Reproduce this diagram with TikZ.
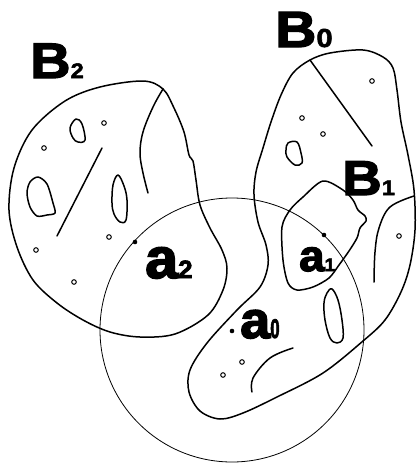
\documentclass[tikz,border=0pt]{standalone}
\usepackage{fontspec}
\newfontfamily\Bfont{Liberation Sans Bold}[FakeBold=2.5, FakeStretch=1.12]
\newfontfamily\afont{Liberation Sans Bold}[FakeBold=3, FakeStretch=1.04]
\newcommand\fs[1]{\fontsize{#1}{#1}\selectfont}
\begin{document}
\begin{tikzpicture}[x=1pt,y=-1pt,
  region/.style={line width=1.5pt, line join=round, line cap=round},
  ring/.style={line width=0.8pt},
  hole/.style={line width=1pt},
  fdot/.style={fill=black},
  lbl/.style={inner sep=0pt, anchor=base west, font=\Bfont},
  albl/.style={lbl, font=\afont}]
\useasboundingbox (0,0) rectangle (418,464);
% big circle
\draw[ring] (232,330) circle[radius=132];
% B2 region
\draw[region] plot[smooth cycle, tension=0.55] coordinates {
 (143,81) (163,89) (174,108) (184,132) (189,155) (193,161) (196,180) (200,205)
 (210,228) (222,250) (227,268) (223,290) (208,315) (175,334) (140,337) (110,332)
 (83,320) (57,303) (33,280) (17,247) (9,210) (14,168) (32,130) (65,101) (100,87)};
\draw[region] plot[smooth, tension=0.6] coordinates {(163,89) (153,107) (143,132) (140,153) (143,173) (148,193)};
\draw[region] (102,148) -- (57,236);
\draw[region] plot[smooth cycle, tension=0.6] coordinates {(76,119) (82,124) (85,140) (78,142) (73,138) (70,128)};
\draw[region] plot[smooth cycle, tension=0.5] coordinates {(38,177) (47,184) (53,203) (55,213) (47,215) (37,216) (30,207) (27,193) (30,182)};
\draw[region] plot[smooth cycle, tension=0.6] coordinates {(118,175) (124,186) (127,200) (126,220) (120,222) (114,214) (112,203) (113,185)};
% B0 region
\draw[region] plot[smooth cycle, tension=0.55] coordinates {
 (310,60) (330,53) (363,50) (383,57) (393,68) (397,90) (401,122) (408,155)
 (414,190) (415,230) (410,265) (401,292) (385,320) (363,341) (323,373) (277,397)
 (243,413) (220,419) (200,411) (189,392) (190,370) (207,343) (237,310) (260,287)
 (268,265) (266,245) (258,222) (254,195) (256,172) (263,148) (271,122) (281,95) (293,73)};
\draw[region] (310,60) -- (372,146);
\draw[region] plot[smooth cycle, tension=0.6] coordinates {(288,143) (297,142) (301,153) (302,163) (295,165) (287,157) (286,150)};
\draw[region] plot[smooth, tension=0.6] coordinates {(414,196) (390,207) (379,228) (375,252) (374,282)};
\draw[region] plot[smooth cycle, tension=0.6] coordinates {(332,289) (338,300) (342,320) (343,338) (337,343) (330,338) (325,320) (324,303) (327,293)};
\draw[region] plot[smooth, tension=0.6] coordinates {(293,348) (270,358) (253,378) (252,392)};
% B1 region
\draw[region] plot[smooth cycle, tension=0.5] coordinates {
 (323,181) (343,190) (353,200) (358,210) (365,216) (366,221) (360,228) (357,238)
 (349,251) (339,265) (329,278) (313,287) (297,290) (288,283) (283,260) (282,227)
 (290,210) (303,197)};
% small hollow dots
\foreach \p in {(104,123),(44,148),(109,237),(36,250),(74,282),(372,81),(302,118),(323,134),(399,236),(242,362),(223,375)}
  \draw[hole] \p circle[radius=2.3];
% filled points
\fill[fdot] (135,242) circle[radius=2.3];
\fill[fdot] (324,235) circle[radius=2.3];
\fill[fdot] (232,331) circle[radius=2.3];
% labels
\node[lbl] (B2) at (30,78) {\fs{50}B\fs{21}2};
\node[lbl] (B0) at (275,47) {\fs{51}B\fs{26}0};
\node[lbl] (B1) at (342,195) {\fs{49}B\fs{21}1};
\node[albl] (a2) at (145,278) {\fs{57}a\fs{25}2};
\node[albl] (a1) at (299,271) {\fs{44}a\fs{18}1};
\node[albl] (a0) at (240,338) {\fs{52}a\fs{27}\scalebox{0.6}[1]{0}};
\end{tikzpicture}
\end{document}
